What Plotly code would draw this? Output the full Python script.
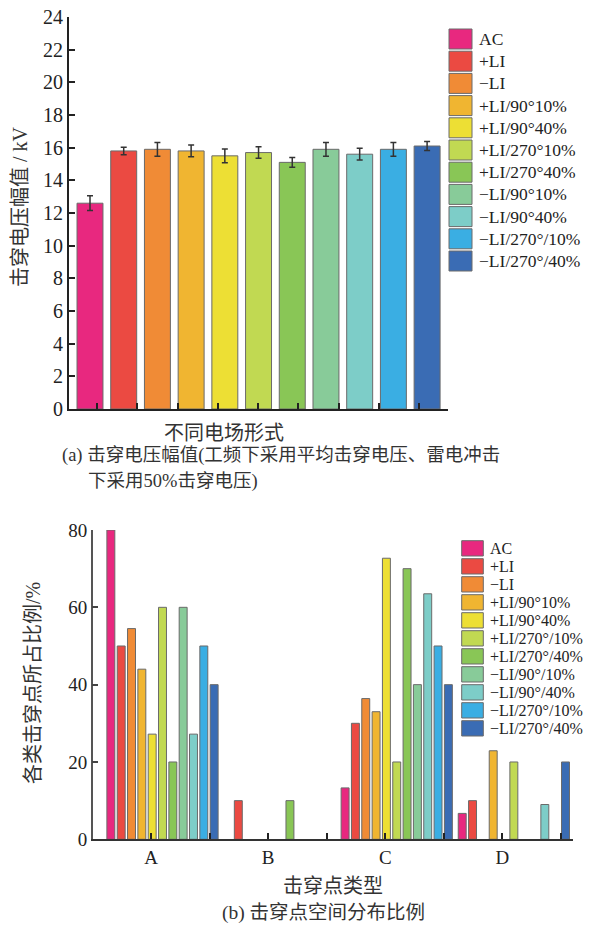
import plotly.graph_objects as go

W, H = 602, 930

# ---------------- data ----------------
series_a = ["AC", "+LI", "−LI", "+LI/90°10%", "+LI/90°40%", "+LI/270°10%", "+LI/270°40%",
            "−LI/90°10%", "−LI/90°40%", "−LI/270°/10%", "−LI/270°/40%"]
series_b = ["AC", "+LI", "−LI", "+LI/90°10%", "+LI/90°40%", "+LI/270°/10%", "+LI/270°/40%",
            "−LI/90°/10%", "−LI/90°/40%", "−LI/270°/10%", "−LI/270°/40%"]
colors = ["#E8287F", "#EB4A42", "#F08B36", "#F0B531", "#EDDF34", "#C1D952", "#89C656",
          "#88CB99", "#7DCDC8", "#3AAEE3", "#3A6CB4"]

voltage = [12.6, 15.8, 15.9, 15.8, 15.5, 15.7, 15.1, 15.9, 15.6, 15.9, 16.1]
voltage_err = [0.45, 0.23, 0.42, 0.36, 0.42, 0.35, 0.30, 0.42, 0.36, 0.42, 0.28]

point_types = ["A", "B", "C", "D"]
share_A = [80, 50, 54.5, 44, 27.2, 60, 20, 60, 27.2, 50, 40]
share_B = [0, 10, 0, 0, 0, 0, 10, 0, 0, 0, 0]
share_C = [13.3, 30, 36.4, 33, 72.7, 20, 70, 40, 63.5, 50, 40]
share_D = [6.7, 10, 0, 22.9, 0, 20, 0, 0, 9, 0, 20]

y_ticks_a = [0, 2, 4, 6, 8, 10, 12, 14, 16, 18, 20, 22, 24]
y_ticks_b = [0, 20, 40, 60, 80]

SERIF = "'Liberation Serif', 'Noto Sans CJK SC', serif"
TXT = "#222222"


def px(x):
    return x / W


def py(y):
    return 1 - y / H


fig = go.Figure()

# ---- (a) breakdown voltage ----
fig.add_trace(go.Bar(
    x=list(range(len(series_a))), y=voltage, width=0.77,
    marker=dict(color=colors, line=dict(color="#6a6a6a", width=1)),
    error_y=dict(type="data", array=voltage_err, color="#333333", thickness=1.5, width=3),
    xaxis="x", yaxis="y", showlegend=False,
))

# ---- (b) breakdown point share ----
shares = [share_A, share_B, share_C, share_D]
for i, name in enumerate(series_b):
    ys = [s[i] for s in shares]
    fig.add_trace(go.Bar(
        x=list(range(len(point_types))), y=ys, name=name,
        marker=dict(color=colors[i],
                    line=dict(color="#6a6a6a", width=[1 if v else 0 for v in ys])),
        xaxis="x2", yaxis="y2", showlegend=False,
    ))

# tick positions (styling only)
xa_range = [-0.623, 10.62]
xa_ticks = [0.21 + 1.194 * k for k in range(9)] + [xa_range[1]]
xb_range = [-0.596, 3.505]
xb_tickvals = [k - 0.098 for k in range(4)] + [k + 0.402 for k in range(4)] + [xb_range[1]]
xb_ticktext = point_types + [""] * 5

fig.update_layout(
    width=W, height=H,
    margin=dict(l=0, r=0, t=0, b=0, autoexpand=False),
    paper_bgcolor="white", plot_bgcolor="white",
    barmode="group", bargap=0.03, bargroupgap=0.23,
    font=dict(family=SERIF, color=TXT),
    xaxis=dict(domain=[px(69), px(448)], range=xa_range, anchor="y", automargin=False,
               showline=True, linecolor="#222", linewidth=2,
               ticks="inside", tickvals=xa_ticks, ticklen=6, tickwidth=1.5, tickcolor="#222",
               showticklabels=False, showgrid=False, zeroline=False),
    yaxis=dict(domain=[py(409), py(17)], range=[0, 24], anchor="x", automargin=False,
               showline=True, linecolor="#222", linewidth=2,
               ticks="inside", tickvals=y_ticks_a, ticklen=6, tickwidth=1.5, tickcolor="#222",
               tickfont=dict(family=SERIF, size=20, color=TXT),
               showgrid=False, zeroline=False),
    xaxis2=dict(domain=[px(92.7), px(573)], range=xb_range, anchor="y2", automargin=False,
                showline=True, linecolor="#333", linewidth=2,
                ticks="inside", tickvals=xb_tickvals, ticktext=xb_ticktext,
                ticklen=6, tickwidth=1.5, tickcolor="#222",
                tickfont=dict(family=SERIF, size=19, color=TXT),
                showgrid=False, zeroline=False),
    yaxis2=dict(domain=[py(839.3), py(530)], range=[0, 80], anchor="x2", automargin=False,
                showline=True, linecolor="#555", linewidth=1.5,
                ticks="inside", tickvals=y_ticks_b, ticklen=6, tickwidth=1.5, tickcolor="#444",
                tickfont=dict(family=SERIF, size=19, color=TXT),
                showgrid=False, zeroline=False),
)

shapes = []
annotations = []

# custom legends
for i, (name, c) in enumerate(zip(series_a, colors)):
    y0 = 29 + 22.2 * i
    shapes.append(dict(type="rect", xref="paper", yref="paper",
                       x0=px(449), x1=px(472), y0=py(y0), y1=py(y0 + 20),
                       fillcolor=c, line=dict(color="#6a6a6a", width=1)))
    annotations.append(dict(xref="paper", yref="paper", x=px(477), y=py(y0 + 10),
                            xanchor="left", yanchor="middle", showarrow=False,
                            text=name, font=dict(family=SERIF, size=17.5, color=TXT)))

for i, (name, c) in enumerate(zip(series_b, colors)):
    y0 = 540.7 + 18 * i
    shapes.append(dict(type="rect", xref="paper", yref="paper",
                       x0=px(461.7), x1=px(483.3), y0=py(y0), y1=py(y0 + 15.3),
                       fillcolor=c, line=dict(color="#6a6a6a", width=1)))
    annotations.append(dict(xref="paper", yref="paper", x=px(488), y=py(y0 + 7.6),
                            xanchor="left", yanchor="middle", showarrow=False,
                            text=name, font=dict(family=SERIF, size=16, color=TXT)))

# titles and captions
def note(x, y, text, size, anchor="center", angle=0, color="#333"):
    annotations.append(dict(xref="paper", yref="paper", x=px(x), y=py(y),
                            xanchor=anchor, yanchor="middle", showarrow=False,
                            textangle=angle, text=text,
                            font=dict(family=SERIF, size=size, color=color)))

note(20, 207, "击穿电压幅值 / kV", 20, angle=-90)
note(224, 433, "不同电场形式", 20)
note(60, 456, "(a) 击穿电压幅值(工频下采用平均击穿电压、雷电冲击", 18.5, anchor="left")
note(86, 481, "下采用50%击穿电压)", 18.5, anchor="left")
note(33, 683, "各类击穿点所占比例/%", 20, angle=-90)
note(333, 886, "击穿点类型", 20)
note(323, 913, "(b) 击穿点空间分布比例", 19.5)

fig.update_layout(shapes=shapes, annotations=annotations)

fig.write_html(
    "out.html",
    config={"displayModeBar": False},
    post_script="document.body.style.margin='0';document.body.style.overflow='hidden';",
)
